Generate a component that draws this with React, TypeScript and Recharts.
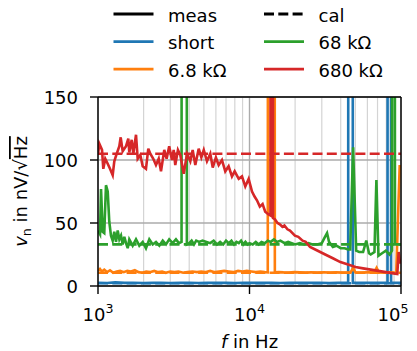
import { LineChart, Line, XAxis, YAxis, CartesianGrid, ReferenceLine } from "recharts";

// each trace: frequency in Hz and noise density in nV/sqrt(Hz)
// values far above 150 are pickup spikes that run off the top of the plot

const SHORT_F = [
  1000, 1150, 1300, 1500, 1700, 2000, 2300, 2600, 3000, 3500,
  4000, 4600, 5300, 6100, 7000, 8000, 9200, 10500, 12000, 14000,
  16000, 18500, 21500, 25000, 29000, 33500, 38500, 44800, 46400, 48100,
  55000, 63000, 72000, 81500, 83700, 86000, 93000, 100000,
];
const SHORT_NV = [
  2.6, 2.4, 2.9, 2.5, 2.6, 2.4, 2.6, 2.5, 2.4, 2.6,
  2.5, 2.4, 2.5, 2.6, 2.5, 2.4, 2.5, 2.5, 2.6, 2.5,
  2.4, 2.5, 2.5, 2.6, 2.5, 2.4, 2.5, 2.5, 5000, 2.5,
  2.5, 2.6, 2.5, 2.5, 5000, 2.5, 2.5, 2.5,
];

const R6K8_F = [
  1000, 1030, 1060, 1100, 1150, 1200, 1260, 1330, 1400, 1480,
  1560, 1650, 1750, 1850, 1960, 2080, 2200, 2350, 2500, 2650,
  2800, 3000, 3200, 3400, 3650, 3900, 4200, 4500, 4800, 5100,
  5500, 5900, 6300, 6800, 7300, 7800, 8400, 9000, 9600, 10300,
  11000, 11800, 12600, 13200, 13950, 14700, 15600, 16800, 18200, 19800,
  21500, 23500, 25500, 28000, 31000, 34000, 37500, 41500, 46500, 48300,
  50000, 55000, 60000, 66500, 69000, 71500, 77000, 84000, 89000, 93000,
  98000, 100000,
];
const R6K8_NV = [
  12, 13.5, 11.5, 13, 11, 12.5, 10.5, 11.5, 12, 11,
  12, 11.5, 12.5, 11, 10.5, 11.5, 11, 12, 11, 11.5,
  10.5, 11.5, 11, 11.5, 10.5, 11, 11.5, 11, 11.5, 11,
  12, 11, 11.5, 12, 11.5, 11, 12, 11.5, 12, 11.5,
  11, 11.5, 11, 10.8, 5000, 10.8, 11, 10.8, 10.7, 11,
  10.8, 10.6, 10.8, 10.7, 10.9, 10.7, 10.8, 10.6, 10.8, 14.5,
  10.8, 10.7, 10.8, 10.8, 14.5, 10.8, 10.6, 10.8, 10.7, 10.5,
  95, 95,
];

const R68K_F = [
  1000, 1031, 1047, 1074, 1100, 1129, 1159, 1187, 1218, 1250,
  1281, 1315, 1349, 1383, 1419, 1455, 1492, 1531, 1571, 1609,
  1694, 1782, 1874, 1973, 2073, 2181, 2297, 2414, 2540, 2675,
  2810, 2951, 3110, 3270, 3420, 3560, 3700, 3860, 4000, 4150,
  4300, 4450, 4650, 4900, 5200, 5500, 5800, 6100, 6400, 6700,
  7000, 7300, 7600, 7900, 8200, 8500, 8800, 9100, 9400, 9700,
  10000, 10500, 11000, 11500, 12000, 12600, 13200, 13800, 14500, 15200,
  16000, 17000, 18000, 19000, 20000, 21500, 23000, 24500, 26000, 28000,
  30000, 31500, 32500, 33500, 35500, 37500, 40000, 42500, 44700, 46200,
  48300, 50600, 53000, 56200, 59000, 61500, 63100, 66800, 68800, 71000,
  75000, 79400, 84000, 87200, 89200, 91200, 95000, 100000,
];
const R68K_NV = [
  44, 41, 77, 43, 42, 80, 75, 51, 40, 36,
  43, 35, 44, 37, 40, 33, 39, 34, 30, 37,
  32, 37, 32, 35, 30, 37, 33, 35, 32, 36,
  33, 37, 34, 37, 34, 35, 5000, 33, 34, 36,
  33, 36, 35, 36, 35, 34, 36, 33, 35, 33,
  36, 34, 36, 33, 35, 34, 36, 33, 35, 33,
  34, 33, 35, 33, 35, 34, 36, 35, 37, 35,
  36, 34, 35, 34, 33, 34, 33, 34, 33, 33,
  34, 39, 42, 35, 31, 32, 30, 30, 29, 29,
  110, 28, 27, 27, 36, 26, 25, 27, 84, 24,
  26, 28, 25, 28, 5000, 33, 33, 33,
];

const R680K_F = [
  1000, 1020, 1063, 1084, 1117, 1159, 1200, 1250, 1281, 1329,
  1383, 1412, 1455, 1531, 1585, 1609, 1669, 1711, 1782, 1828,
  1902, 1973, 2073, 2148, 2214, 2317, 2414, 2516, 2605, 2738,
  2837, 2951, 3077, 3160, 3236, 3370, 3494, 3680, 3870, 4067,
  4216, 4388, 4620, 4810, 4990, 5240, 5510, 5720, 6000, 6260,
  6580, 6920, 7280, 7660, 7980, 8490, 8920, 9380, 9870, 10390,
  10800, 11200, 11700, 12200, 12700, 13300, 13750, 14000, 14300, 14700,
  15300, 15850, 16500, 17000, 17800, 18500, 19950, 21000, 22400, 23500,
  25100, 28200, 31600, 35500, 39800, 44700, 50100, 56200, 63100, 70800,
  79400, 89100, 94500, 96500, 98500, 100000,
];
const R680K_NV = [
  104, 113, 108, 93, 101, 97, 93, 88, 99, 105,
  111, 118, 107, 111, 117, 106, 116, 105, 120, 101,
  104, 95, 93, 109, 105, 101, 96, 101, 91, 108,
  101, 111, 100, 108, 96, 108, 104, 89, 105, 99,
  108, 96, 109, 102, 108, 99, 105, 94, 102, 96,
  100, 91, 95, 87, 91, 85, 87, 79, 85, 75,
  71, 68, 63, 65, 59, 57, 56, 5000, 54, 53,
  50, 49, 47, 48, 45, 44, 40, 39, 36, 35,
  31, 28, 25, 22, 19, 17, 15, 14, 13, 12,
  11, 10, 9.5, 27, 18, 21,
];

// calibrated (expected) levels
const CAL_NV = [2.2, 10.5, 33, 105];

const SERIES_NAMES = ["short", "6.8 kΩ", "68 kΩ", "680 kΩ"];
const COLORS = ["#1f77b4", "#ff7f0e", "#2ca02c", "#d62728"];

const MAJOR_X = [1000, 10000, 100000];
const MINOR_X = [
  2000, 3000, 4000, 5000, 6000, 7000, 8000, 9000,
  20000, 30000, 40000, 50000, 60000, 70000, 80000, 90000,
];
const Y_TICKS = [0, 50, 100, 150];

const FONT = "'DejaVu Sans', sans-serif";
const DASH = "10 4.3";

const zip = (fs: number[], vs: number[]) => fs.map((f, i) => ({ f, v: vs[i] }));

const MEAS = [
  zip(SHORT_F, SHORT_NV),
  zip(R6K8_F, R6K8_NV),
  zip(R68K_F, R68K_NV),
  zip(R680K_F, R680K_NV),
];
const CAL = CAL_NV.map((v) => [
  { f: MAJOR_X[0], v },
  { f: MAJOR_X[MAJOR_X.length - 1], v },
]);

// eslint-disable-next-line @typescript-eslint/no-explicit-any
const PowerTick = (props: any) => {
  const { x, y, payload } = props;
  const exp = Math.round(Math.log10(payload.value));
  return (
    <text x={x} y={y + 25} textAnchor="middle" fontSize={18} fontFamily={FONT} fill="#000">
      10
      <tspan dy={-8} fontSize={12.6}>
        {exp}
      </tspan>
    </text>
  );
};

// eslint-disable-next-line @typescript-eslint/no-explicit-any
const ValueTick = (props: any) => {
  const { x, y, payload } = props;
  return (
    <text x={x} y={y + 7} textAnchor="end" fontSize={18} fontFamily={FONT} fill="#000">
      {payload.value}
    </text>
  );
};

// eslint-disable-next-line @typescript-eslint/no-explicit-any
const YLabel = (props: any) => {
  const { x, y, height } = props.viewBox;
  const cx = x + 27;
  const cy = y + height / 2;
  return (
    <text
      x={cx}
      y={cy}
      transform={`rotate(-90 ${cx} ${cy})`}
      textAnchor="middle"
      fontSize={18}
      fontFamily={FONT}
      fill="#000"
    >
      <tspan fontStyle="italic">v</tspan>
      <tspan dy={4} fontSize={12.6}>
        n
      </tspan>
      <tspan dy={-4}> in nV/√</tspan>
      <tspan style={{ textDecoration: "overline" }}>Hz</tspan>
    </text>
  );
};

// eslint-disable-next-line @typescript-eslint/no-explicit-any
const XLabel = (props: any) => {
  const { x, y, width } = props.viewBox;
  return (
    <text x={x + width / 2} y={y + 62} textAnchor="middle" fontSize={18} fontFamily={FONT} fill="#000">
      <tspan fontStyle="italic">f</tspan> in Hz
    </text>
  );
};

const LEGEND_ROWS = [
  { label: "meas", color: "#000", dashed: false, col: 0, row: 0 },
  { label: SERIES_NAMES[0], color: COLORS[0], dashed: false, col: 0, row: 1 },
  { label: SERIES_NAMES[1], color: COLORS[1], dashed: false, col: 0, row: 2 },
  { label: "cal", color: "#000", dashed: true, col: 1, row: 0 },
  { label: SERIES_NAMES[2], color: COLORS[2], dashed: false, col: 1, row: 1 },
  { label: SERIES_NAMES[3], color: COLORS[3], dashed: false, col: 1, row: 2 },
];

function TopLegend() {
  return (
    <svg width={417} height={90} style={{ position: "absolute", left: 0, top: 0 }}>
      {LEGEND_ROWS.map((item) => {
        const x0 = 113.5 + item.col * 150.5;
        const yc = 14 + item.row * 27.6;
        return (
          <g key={item.label}>
            <line
              x1={x0}
              x2={x0 + 40}
              y1={yc}
              y2={yc}
              stroke={item.color}
              strokeWidth={2.8}
              strokeDasharray={item.dashed ? DASH : undefined}
            />
            <text x={x0 + 54.5} y={yc + 7.5} fontSize={18} fontFamily={FONT} fill="#000">
              {item.label}
            </text>
          </g>
        );
      })}
    </svg>
  );
}

export default function App() {
  return (
    <div style={{ position: "absolute", left: 0, top: 0, width: 417, height: 351, background: "#fff" }}>
      <LineChart width={417} height={351} margin={{ top: 97, right: 16, bottom: 0, left: 0 }}>
        {MINOR_X.map((v) => (
          <ReferenceLine key={`minor-${v}`} x={v} stroke="#d4d4d4" strokeWidth={1.2} zIndex={-100} />
        ))}
        <CartesianGrid stroke="#ababab" strokeWidth={1.4} />
        <XAxis
          dataKey="f"
          type="number"
          scale="log"
          domain={[MAJOR_X[0], MAJOR_X[MAJOR_X.length - 1]]}
          ticks={MAJOR_X}
          allowDataOverflow
          height={65}
          tickSize={8}
          tickMargin={2}
          tick={<PowerTick />}
          axisLine={{ stroke: "#000", strokeWidth: 1.4 }}
          tickLine={{ stroke: "#000", strokeWidth: 1.4 }}
          label={<XLabel />}
        />
        <YAxis
          type="number"
          domain={[Y_TICKS[0], Y_TICKS[Y_TICKS.length - 1]]}
          ticks={Y_TICKS}
          allowDataOverflow
          width={98}
          tickSize={8}
          tickMargin={12}
          tick={<ValueTick />}
          axisLine={{ stroke: "#000", strokeWidth: 1.4 }}
          tickLine={{ stroke: "#000", strokeWidth: 1.4 }}
          label={<YLabel />}
        />
        {MEAS.map((data, i) => [
          <Line
            key={`meas-${i}`}
            data={data}
            dataKey="v"
            stroke={COLORS[i]}
            strokeWidth={2.6}
            dot={false}
            isAnimationActive={false}
          />,
          <Line
            key={`cal-${i}`}
            data={CAL[i]}
            dataKey="v"
            stroke={COLORS[i]}
            strokeWidth={2.6}
            strokeDasharray={DASH}
            dot={false}
            isAnimationActive={false}
          />,
        ])}
        <ReferenceLine y={Y_TICKS[Y_TICKS.length - 1]} stroke="#000" strokeWidth={1.4} />
        <ReferenceLine x={MAJOR_X[MAJOR_X.length - 1]} stroke="#000" strokeWidth={1.4} />
      </LineChart>
      <TopLegend />
    </div>
  );
}
